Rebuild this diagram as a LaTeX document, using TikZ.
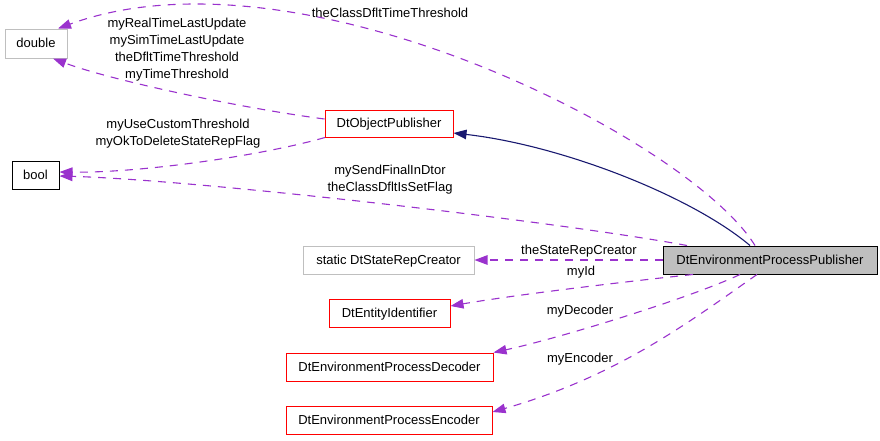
\documentclass[tikz,border=0pt]{standalone}
\usepackage{fontspec}
\setmainfont{Liberation Sans}
\usetikzlibrary{arrows.meta}
\definecolor{edgepurple}{RGB}{154,50,205}
\definecolor{navyblue}{RGB}{25,25,112}
\definecolor{boxgrey}{RGB}{191,191,191}
\begin{document}
\begin{tikzpicture}[x=1pt, y=-1pt,
    every node/.style = {font=\fontsize{13}{17}\selectfont},
    box/.style = {draw, inner sep=0pt, minimum height=28pt, line width=1pt, text depth=0.5pt},
    uses/.style = {edgepurple, line width=1.1pt, dash pattern=on 8pt off 7pt, -{Triangle[length=13pt,width=9.5pt]}},
    inherit/.style = {navyblue, line width=1.1pt, -{Triangle[length=13pt,width=9.5pt]}}]
    \useasboundingbox (0,0) rectangle (880,440);

    \node[box, fill=boxgrey, minimum width=214pt] (1) at (770,260) {DtEnvironmentProcessPublisher};
    \node[box, red, text=black, minimum width=128pt, minimum height=27pt] (2) at (389,123.5) {DtObjectPublisher};
    \node[box, boxgrey, text=black, minimum width=62pt, minimum height=29pt] (3) at (36,43.5) {double};
    \node[box, minimum width=47pt] (4) at (35.5,175) {bool};
    \node[box, boxgrey, text=black, minimum width=171pt] (5) at (388.5,260) {static DtStateRepCreator};
    \node[box, red, text=black, minimum width=121pt] (6) at (389.5,313) {DtEntityIdentifier};
    \node[box, red, text=black, minimum width=207pt] (7) at (389.5,367) {DtEnvironmentProcessDecoder};
    \node[box, red, text=black, minimum width=206pt] (8) at (389,420) {DtEnvironmentProcessEncoder};

    \draw[inherit] ([xshift=-20pt]1.north) .. controls (690,195) and (560,145) .. ([yshift=-9.5pt]2.east);
    \draw[uses] ([xshift=-15pt]1.north) .. controls (690,140) and (300,-60) .. ([xshift=22pt]3.north);
    \draw[uses] ([yshift=4.5pt]2.west) .. controls (240,108) and (110,80) .. ([xshift=17pt]3.south);
    \draw[uses] ([xshift=-64pt]2.south) .. controls (260,156) and (140,173) .. ([yshift=3pt]4.east);
    \draw[uses] ([xshift=-83pt]1.north) .. controls (560,222) and (200,180) .. ([yshift=-1pt]4.east);
    \draw[uses] (1.west) -- (5.east);
    \draw[uses] ([xshift=-77pt]1.south) .. controls (640,280) and (520,294) .. ([yshift=7pt]6.east);
    \draw[uses] ([xshift=-30pt]1.south) .. controls (690,298) and (560,338) .. (7.north east);
    \draw[uses] ([xshift=-13pt]1.south) .. controls (689,322) and (618,376) .. ([yshift=8pt]8.east);

    \node (l1) at (390,13) {theClassDfltTimeThreshold};
    \node[align=center] (l2) at (177,50) {myRealTimeLastUpdate\\mySimTimeLastUpdate\\theDfltTimeThreshold\\myTimeThreshold};
    \node[align=center] (l3) at (178,133.5) {myUseCustomThreshold\\myOkToDeleteStateRepFlag};
    \node[align=center] (l4) at (390,179.5) {mySendFinalInDtor\\theClassDfltIsSetFlag};
    \node (l5) at (579,251) {theStateRepCreator};
    \node (l6) at (581,272) {myId};
    \node (l7) at (580,311) {myDecoder};
    \node (l8) at (580,359) {myEncoder};
\end{tikzpicture}
\end{document}
